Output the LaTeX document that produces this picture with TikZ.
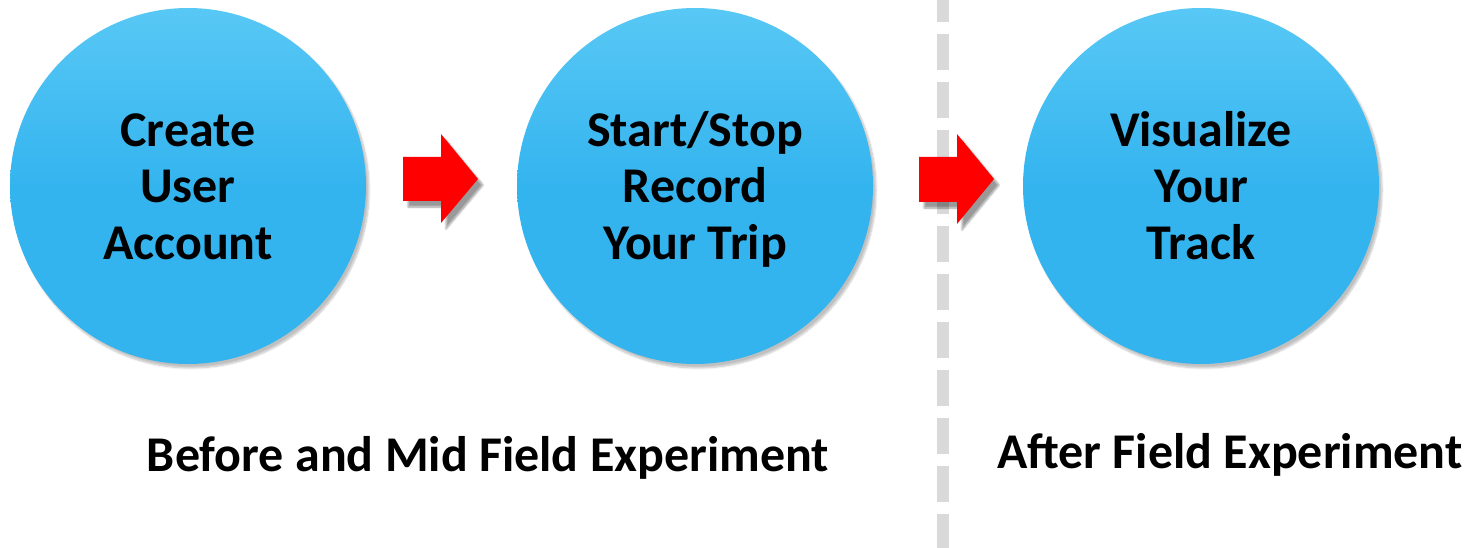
\documentclass[tikz,border=0pt]{standalone}
\usepackage{fontspec}
\setmainfont{Carlito}
\usetikzlibrary{shadows.blur}
\definecolor{ballc}{RGB}{52,180,239}
\definecolor{balltop}{RGB}{88,200,245}
\definecolor{dashc}{RGB}{217,217,217}
\definecolor{arrred}{RGB}{255,0,0}
\newcommand{\balline}[1]{\smash{#1}}
\tikzset{
  ball/.style={circle, minimum size=356pt, inner sep=0pt,
    top color=balltop, bottom color=ballc, middle color=ballc,
    blur shadow={shadow xshift=3pt, shadow yshift=-4pt, shadow blur steps=8, shadow opacity=25}},
  balltext/.style={inner sep=0pt, align=center, font=\fontsize{50}{57}\selectfont\bfseries},
  redarrow/.style={fill=arrred,
    blur shadow={shadow xshift=5pt, shadow yshift=-6pt, shadow blur steps=6, shadow opacity=40}},
  caption/.style={font=\fontsize{50}{57}\selectfont\bfseries, inner sep=0pt}
}
\begin{document}
\begin{tikzpicture}[x=1pt,y=-1pt]
\useasboundingbox (0,0) rectangle (1473,548);
% dashed divider
\coordinate (dtop) at (943,0);
\coordinate (dbot) at (943,548);
\draw[dashc, line width=12pt, dash pattern=on 36pt off 12pt, dash phase=14pt] (dtop) -- (dbot);
% circles
\node[ball] (c1) at (188,186) {};
\node[ball] (c2) at (695,186) {};
\node[ball] (c3) at (1201,186) {};
\node[balltext] (c1t) at (188,203) {\balline{Create}\\\balline{User}\\\balline{Account}};
\node[balltext] (c2t) at (695,203) {\balline{Start/Stop}\\\balline{Record}\\\balline{Your Trip}};
\node[balltext] (c3t) at (1201,203) {\balline{Visualize}\\\balline{Your}\\\balline{Track}};
% arrows
\path[redarrow] (403,157) -- (441,157) -- (441,134) -- (478,179) -- (441,223) -- (441,201) -- (403,201) -- cycle;
\path[redarrow] (919,157) -- (957,157) -- (957,134) -- (994,179) -- (957,224) -- (957,202) -- (919,202) -- cycle;
% captions
\node[caption] (t1) at (488,458) {Before and Mid Field Experiment};
\node[caption] (t2) at (1230,455) {After Field Experiment};
\end{tikzpicture}
\end{document}
